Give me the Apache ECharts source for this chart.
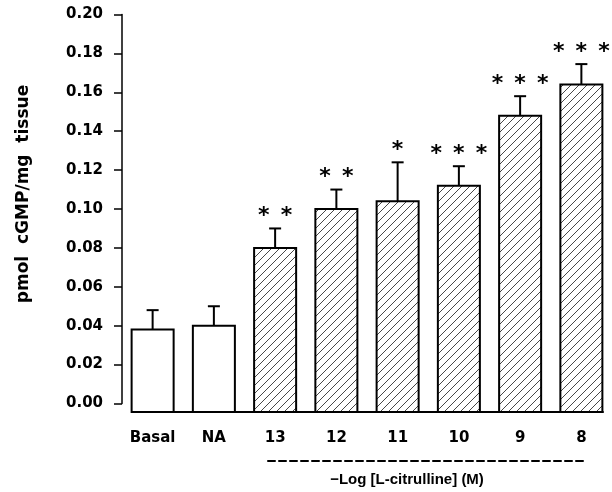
<!DOCTYPE html>
<html><head><meta charset="utf-8">
<script src="https://cdn.jsdelivr.net/npm/echarts@6/dist/echarts.min.js"></script>
<style>html,body{margin:0;padding:0;background:#fff}#c{width:612px;height:492px}</style>
</head><body><div id="c"></div>
<script>
// ---- data ----
const categories = ['Basal', 'NA', '13', '12', '11', '10', '9', '8'];
const citrullineDoses = ['13', '12', '11', '10', '9', '8'];
const means = [0.038, 0.040, 0.080, 0.100, 0.104, 0.112, 0.148, 0.164];
const sems  = [0.010, 0.010, 0.010, 0.010, 0.020, 0.010, 0.010, 0.0105];
const stars = ['', '', '**', '**', '*', '***', '***', '***'];
const yAxisTitle = 'pmol  cGMP/mg  tissue';
const xAxisTitle = '\u2212Log [L-citrulline] (M)';

// ---- styling ----
const FONT = 'DejaVu Sans';
const Y_BAR_MIN = -0.00437; // the bars of the original extend slightly below zero

const HS = 8;
const hatch = document.createElement('canvas');
hatch.width = HS; hatch.height = HS;
const g = hatch.getContext('2d');
g.fillStyle = '#fff'; g.fillRect(0, 0, HS, HS);
g.strokeStyle = '#333'; g.lineWidth = 0.9;
g.beginPath();
g.moveTo(0, HS); g.lineTo(HS, 0);
g.moveTo(-1, 1); g.lineTo(1, -1);
g.moveTo(HS - 1, HS + 1); g.lineTo(HS + 1, HS - 1);
g.stroke();
const hatchFill = { image: hatch, repeat: 'repeat' };

const txt = { color: '#000', fontFamily: FONT, fontWeight: 'bold' };

const chart = echarts.init(document.getElementById('c'), null, { renderer: 'canvas' });
chart.setOption({
  animation: false,
  backgroundColor: '#fff',
  grid: [
    { left: 122, right: 0, top: 14.5, bottom: 80, outerBoundsMode: 'none' },
    { left: 122, width: 1, top: 14.5, bottom: 88.5, outerBoundsMode: 'none' },
    { left: 132, right: 9, top: 411, height: 1, outerBoundsMode: 'none' },
    { left: 268, right: 29, top: 460, height: 1, outerBoundsMode: 'none' }
  ],
  xAxis: [
    { gridIndex: 0, type: 'category', data: categories,
      axisLine: { show: false },
      axisTick: { show: true, alignWithLabel: true, length: 8, lineStyle: { color: '#000', width: 1.5 } },
      axisLabel: Object.assign({ margin: 19, fontSize: 15, interval: 0 }, txt),
      splitLine: { show: false } },
    { gridIndex: 1, type: 'value', show: false },
    { gridIndex: 2, type: 'value', min: 0, max: 1,
      axisLine: { show: true, lineStyle: { color: '#000', width: 1.8 } },
      axisTick: { show: false }, axisLabel: { show: false }, splitLine: { show: false } },
    { gridIndex: 3, type: 'value', min: 0, max: 1,
      axisLine: { show: true, lineStyle: { color: '#000', width: 2, type: [7, 4] } },
      axisTick: { show: false }, axisLabel: { show: false }, splitLine: { show: false },
      name: xAxisTitle, nameLocation: 'middle', nameGap: 11,
      nameTextStyle: { color: '#000', fontFamily: 'Liberation Sans', fontWeight: 'bold', fontSize: 15, padding: [0, 37, 0, 0] } }
  ],
  yAxis: [
    { gridIndex: 0, type: 'value', min: Y_BAR_MIN, max: 0.2, show: false },
    { gridIndex: 1, type: 'value', min: 0, max: 0.2, interval: 0.02,
      axisLine: { show: true, lineStyle: { color: '#000', width: 1.5 } },
      axisTick: { show: true, length: 8, lineStyle: { color: '#000', width: 1.5 } },
      splitLine: { show: false },
      axisLabel: Object.assign({ margin: 19, fontSize: 15, formatter: v => v.toFixed(2) }, txt),
      name: yAxisTitle, nameLocation: 'middle', nameRotate: 90, nameGap: 90,
      nameTextStyle: Object.assign({ fontSize: 17, padding: [0, 0, 0, 30] }, txt) },
    { gridIndex: 2, type: 'value', show: false },
    { gridIndex: 3, type: 'value', show: false }
  ],
  series: [{
    type: 'custom',
    xAxisIndex: 0, yAxisIndex: 0,
    clip: false,
    data: categories.map((c, i) => [i, means[i], sems[i]]),
    encode: { x: 0, y: 1 },
    renderItem: (params, api) => {
      const i = api.value(0), m = api.value(1), s = api.value(2);
      const band = api.size([1, 0])[0];
      const w = band * 0.686;
      const top = api.coord([i, m]);
      const base = api.coord([i, Y_BAR_MIN]);
      const errTop = api.coord([i, m + s]);
      const cx = top[0];
      const hatched = citrullineDoses.includes(categories[i]);
      const children = [
        { type: 'rect', shape: { x: cx - w / 2, y: top[1], width: w, height: base[1] - top[1] },
          style: { fill: hatched ? hatchFill : '#fff', stroke: '#000', lineWidth: 2 } },
        { type: 'line', shape: { x1: cx, y1: top[1], x2: cx, y2: errTop[1] },
          style: { stroke: '#000', lineWidth: 2 } },
        { type: 'line', shape: { x1: cx - 6, y1: errTop[1], x2: cx + 6, y2: errTop[1] },
          style: { stroke: '#000', lineWidth: 2 } }
      ];
      if (stars[i]) {
        children.push({ type: 'text', x: cx, y: errTop[1] - 12,
          style: { text: stars[i].split('').join('\u2002'), align: 'center', verticalAlign: 'middle',
                   fontSize: 22, fontWeight: 'bold', fontFamily: FONT, fill: '#000' } });
      }
      return { type: 'group', children };
    }
  }]
});
</script>
</body></html>
